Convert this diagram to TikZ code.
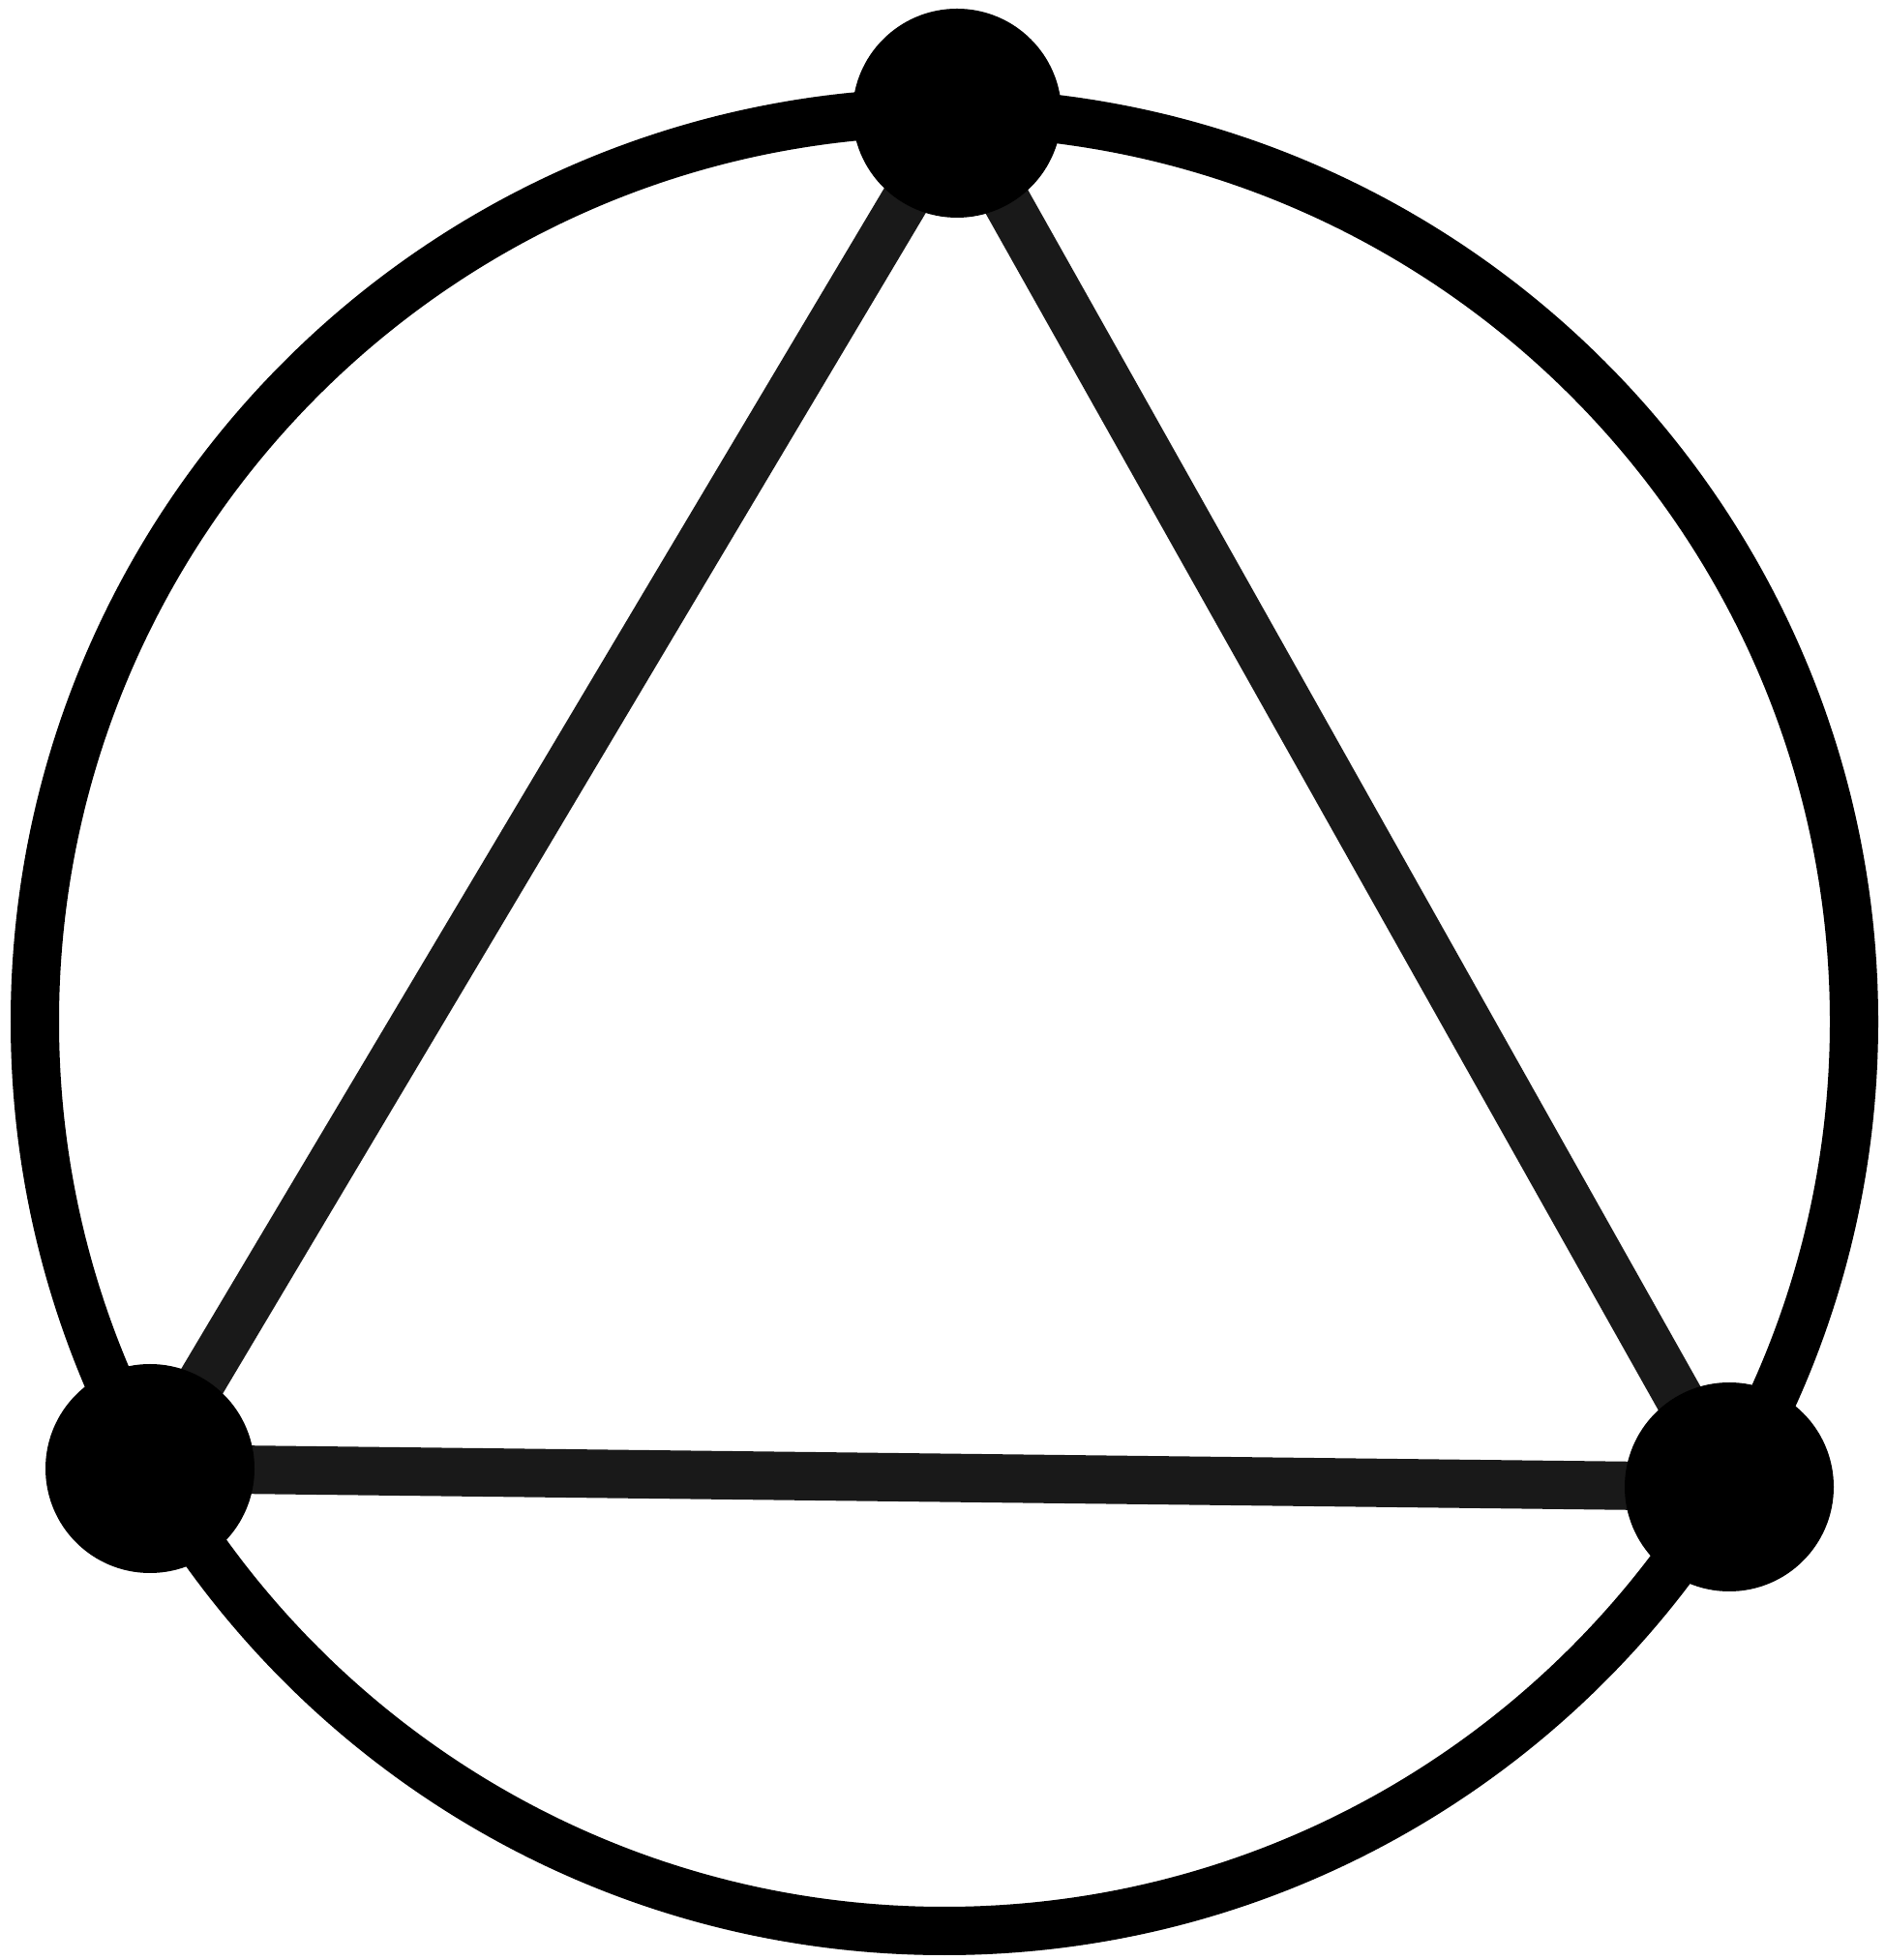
\documentclass[tikz,border=0pt]{standalone}
\usepackage{xcolor}
\usepackage{tikz}
\usetikzlibrary{backgrounds}

\begin{document}
\begin{tikzpicture}[
  vertex/.style={circle, fill=black, minimum size=2.16cm, inner sep=0pt},
  edge/.style={line width=0.5cm, draw=black!90},
  rim/.style={line width=0.5cm, draw=black},
]
\useasboundingbox (0,0) rectangle (19.47,20.26);
\coordinate (o) at (9.76,9.70);
\node[vertex] (top) at (9.89,19.09) {};
\node[vertex] (left) at (1.55,5.08) {};
\node[vertex] (right) at (17.87,4.89) {};
\begin{scope}[on background layer]
\draw[rim] (o) circle (9.40cm);
\draw[edge] (top.center) -- (left.center);
\draw[edge] (top.center) -- (right.center);
\draw[edge] (left.center) -- (right.center);
\end{scope}
\end{tikzpicture}
\end{document}
